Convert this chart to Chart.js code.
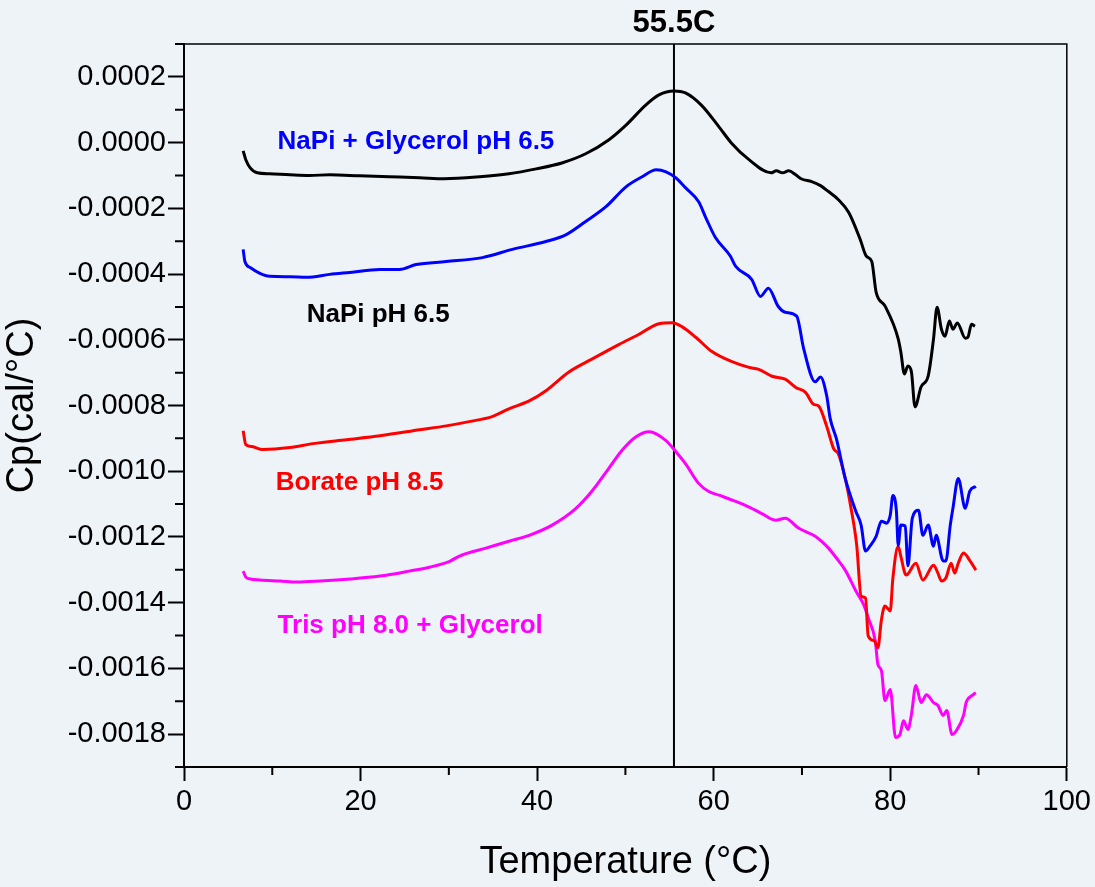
<!DOCTYPE html>
<html>
<head>
<meta charset="utf-8">
<title>Cp vs Temperature</title>
<script src="https://cdn.jsdelivr.net/npm/chart.js@4.4.1/dist/chart.umd.min.js"></script>
<style>
  html, body { margin: 0; padding: 0; background: #eef3f8; }
  #wrap { width: 1095px; height: 887px; position: relative; }
</style>
</head>
<body>
<div id="wrap"><canvas id="dsc"></canvas></div>
<script>
// DSC scans, Cp (cal/°C) vs temperature (°C)

const napiTemp = [6.7, 7.0, 7.5, 8.3, 9.7, 12.0, 14.2, 16.5, 19.9, 23.3, 26.7, 29.5, 33.5, 36.8, 39.9,
  42.8, 45.5, 48.1, 50.1, 52.3, 53.8, 55.5, 56.8, 58.6, 60.6, 62.0, 64.0, 66.5, 67.1, 67.8,
  68.5, 69.3, 69.9, 71.1, 72.1, 73.0, 74.1, 75.3, 76.6, 77.3, 77.9, 78.4, 79.4, 80.9, 81.2,
  81.6, 82.0, 82.4, 82.8, 83.5, 84.3, 84.9, 85.3, 85.8, 86.2, 86.7, 87.1, 87.6, 88.5, 88.8,
  89.2, 89.6];
const napiCp = [-0.000025, -0.000052, -0.000077, -0.000092, -0.000095, -0.000098, -0.000100, -0.000098, -0.000101, -0.000104,
  -0.000107, -0.000110, -0.000104, -0.000095, -0.000080, -0.000062, -0.000034, 0.000008, 0.000054, 0.000114,
  0.000145, 0.000157, 0.000151, 0.000114, 0.000048, -0.000001, -0.000052, -0.000092, -0.000086, -0.000092,
  -0.000086, -0.000098, -0.000110, -0.000119, -0.000131, -0.000149, -0.000173, -0.000213, -0.000295, -0.000346,
  -0.000361, -0.000455, -0.000497, -0.000597, -0.000637, -0.000704, -0.000680, -0.000698, -0.000804, -0.000743,
  -0.000710, -0.000598, -0.000501, -0.000568, -0.000589, -0.000543, -0.000568, -0.000549, -0.000595, -0.000592,
  -0.000553, -0.000559];

const glyTemp = [6.7, 6.9, 7.5, 8.6, 9.7, 12.0, 13.9, 16.5, 18.8, 22.2, 24.4, 26.3, 29.7, 33.8, 37.2,
  41.0, 43.3, 45.5, 47.8, 50.1, 51.9, 53.5, 54.6, 55.7, 56.8, 58.3, 59.1, 60.2, 61.9, 62.5,
  64.3, 65.3, 66.2, 67.3, 68.1, 69.4, 70.2, 71.5, 72.1, 72.8, 73.2, 73.9, 74.9, 76.1, 76.7,
  77.2, 77.7, 78.4, 79.0, 79.6, 80.0, 80.3, 80.7, 80.9, 81.2, 81.7, 82.0, 82.5, 83.2, 83.7,
  84.3, 84.9, 85.2, 86.0, 86.3, 86.8, 87.1, 87.7, 88.5, 89.0, 89.7];
const glyCp = [-0.000325, -0.000362, -0.000380, -0.000398, -0.000407, -0.000408, -0.000410, -0.000401, -0.000395, -0.000386,
  -0.000386, -0.000371, -0.000362, -0.000350, -0.000325, -0.000301, -0.000280, -0.000240, -0.000195, -0.000134,
  -0.000104, -0.000083, -0.000089, -0.000107, -0.000137, -0.000180, -0.000228, -0.000289, -0.000346, -0.000377,
  -0.000416, -0.000468, -0.000443, -0.000498, -0.000516, -0.000528, -0.000628, -0.000728, -0.000713, -0.000770,
  -0.000840, -0.000901, -0.001022, -0.001122, -0.001164, -0.001243, -0.001228, -0.001198, -0.001152, -0.001158,
  -0.001134, -0.001074, -0.001122, -0.001225, -0.001164, -0.001167, -0.001288, -0.001143, -0.001119, -0.001195,
  -0.001164, -0.001228, -0.001195, -0.001273, -0.001273, -0.001164, -0.001113, -0.001022, -0.001113, -0.001061,
  -0.001046];

const borateTemp = [6.7, 7.0, 7.7, 8.9, 12.0, 14.6, 18.4, 22.2, 26.7, 29.7, 32.3, 34.9, 36.8, 39.1, 41.0,
  43.6, 46.2, 49.3, 51.5, 53.8, 55.3, 56.4, 58.0, 59.8, 62.0, 64.0, 65.1, 66.6, 68.1, 69.3,
  70.4, 71.3, 71.9, 72.8, 73.6, 74.1, 74.9, 75.5, 76.2, 76.7, 77.2, 77.5, 78.2, 78.6, 79.0,
  79.4, 80.0, 80.3, 80.9, 81.2, 81.8, 82.9, 83.7, 84.9, 85.4, 85.8, 86.3, 86.9, 87.3, 87.7,
  88.3, 89.0, 89.7];
const borateCp = [-0.000877, -0.000919, -0.000925, -0.000934, -0.000928, -0.000916, -0.000904, -0.000892, -0.000874, -0.000862,
  -0.000849, -0.000834, -0.000810, -0.000786, -0.000755, -0.000698, -0.000659, -0.000614, -0.000584, -0.000551,
  -0.000548, -0.000560, -0.000593, -0.000636, -0.000666, -0.000684, -0.000690, -0.000711, -0.000720, -0.000745,
  -0.000760, -0.000796, -0.000802, -0.000863, -0.000932, -0.000946, -0.001022, -0.001104, -0.001225, -0.001380,
  -0.001386, -0.001501, -0.001516, -0.001537, -0.001452, -0.001410, -0.001425, -0.001325, -0.001228, -0.001259,
  -0.001316, -0.001280, -0.001331, -0.001286, -0.001310, -0.001334, -0.001325, -0.001280, -0.001310, -0.001280,
  -0.001249, -0.001271, -0.001301];

const trisTemp = [6.7, 7.0, 7.5, 8.6, 10.9, 12.8, 15.4, 18.8, 22.2, 25.5, 27.8, 30.1, 31.2, 34.2, 36.8,
  39.1, 41.7, 44.4, 46.2, 48.1, 49.6, 51.2, 52.7, 54.6, 55.7, 56.8, 58.3, 59.4, 60.6, 62.5,
  63.6, 65.4, 67.0, 68.1, 69.6, 71.5, 73.0, 73.9, 74.9, 76.1, 77.0, 77.5, 78.3, 78.6, 79.0,
  79.4, 80.0, 80.6, 81.1, 81.5, 82.0, 82.4, 82.9, 83.5, 84.1, 84.9, 85.4, 86.0, 86.4, 87.0,
  87.5, 88.3, 88.6, 89.4, 89.7];
const trisCp = [-0.001304, -0.001322, -0.001328, -0.001331, -0.001334, -0.001337, -0.001334, -0.001328, -0.001319, -0.001304,
  -0.001292, -0.001274, -0.001258, -0.001234, -0.001213, -0.001195, -0.001164, -0.001113, -0.001061, -0.000992,
  -0.000937, -0.000895, -0.000880, -0.000907, -0.000940, -0.000977, -0.001037, -0.001061, -0.001073, -0.001092,
  -0.001104, -0.001128, -0.001149, -0.001143, -0.001173, -0.001198, -0.001234, -0.001264, -0.001301, -0.001364,
  -0.001407, -0.001446, -0.001516, -0.001588, -0.001607, -0.001698, -0.001664, -0.001810, -0.001801, -0.001759,
  -0.001786, -0.001740, -0.001652, -0.001704, -0.001680, -0.001704, -0.001713, -0.001743, -0.001728, -0.001801,
  -0.001789, -0.001743, -0.001704, -0.001680, -0.001674];

const markerTemp = 55.5;
const markerLabel = '55.5C';

const xTicks = [0, 20, 40, 60, 80, 100];
const xMinorTicks = [10, 30, 50, 70, 90];
const yTicks = [0.0002, 0.0000, -0.0002, -0.0004, -0.0006, -0.0008, -0.0010, -0.0012, -0.0014, -0.0016, -0.0018];
const yMinorTicks = [0.0003, 0.0001, -0.0001, -0.0003, -0.0005, -0.0007, -0.0009, -0.0011, -0.0013, -0.0015, -0.0017, -0.0019];

// text placed next to each curve (data coords of the baseline start)
const curveLabels = [
  { text: 'NaPi + Glycerol pH 6.5', x: 10.6, y: -0.000019, color: '#0000ff' },
  { text: 'NaPi pH 6.5',            x: 13.9, y: -0.000546, color: '#000000' },
  { text: 'Borate pH 8.5',          x: 10.4, y: -0.001058, color: '#ff0000' },
  { text: 'Tris pH 8.0 + Glycerol', x: 10.6, y: -0.001492, color: '#ff00ff' },
];

const FONT = '"Liberation Sans", Arial, Helvetica, sans-serif';
const pts = (xs, ys) => xs.map((t, i) => ({ x: t, y: ys[i] }));

const line = (label, data, color) => ({
  label, data, borderColor: color, borderWidth: 3,
  pointRadius: 0, showLine: true, fill: false, cubicInterpolationMode: 'monotone'
});

const decor = {
  id: 'decor',
  afterDraw(chart) {
    const { ctx, chartArea: a, scales: { x, y } } = chart;
    ctx.save();
    ctx.strokeStyle = '#000';
    ctx.lineWidth = 2;
    ctx.beginPath();
    xMinorTicks.forEach(v => { const px = x.getPixelForValue(v); ctx.moveTo(px, a.bottom); ctx.lineTo(px, a.bottom + 8); });
    yMinorTicks.forEach(v => { const py = y.getPixelForValue(v); ctx.moveTo(a.left, py); ctx.lineTo(a.left - 9, py); });
    ctx.stroke();

    ctx.lineWidth = 1.5;
    ctx.beginPath();
    ctx.moveTo(a.left, a.top); ctx.lineTo(a.right, a.top); ctx.lineTo(a.right, a.bottom);
    ctx.stroke();

    ctx.font = 'bold 26px ' + FONT;
    ctx.textAlign = 'left';
    ctx.textBaseline = 'alphabetic';
    curveLabels.forEach(l => {
      ctx.fillStyle = l.color;
      ctx.fillText(l.text, x.getPixelForValue(l.x), y.getPixelForValue(l.y));
    });

    ctx.font = 'bold 31px ' + FONT;
    ctx.fillStyle = '#000';
    ctx.textAlign = 'center';
    ctx.fillText(markerLabel, x.getPixelForValue(markerTemp), y.getPixelForValue(0.000335));
    ctx.restore();
  }
};

new Chart(document.getElementById('dsc').getContext('2d'), {
  type: 'scatter',
  data: {
    datasets: [
      line('NaPi pH 6.5', pts(napiTemp, napiCp), '#000000'),
      line('NaPi + Glycerol pH 6.5', pts(glyTemp, glyCp), '#0000ff'),
      line('Borate pH 8.5', pts(borateTemp, borateCp), '#ff0000'),
      line('Tris pH 8.0 + Glycerol', pts(trisTemp, trisCp), '#ff00ff'),
      { label: 'marker', data: [{ x: markerTemp, y: 0.0003 }, { x: markerTemp, y: -0.0019 }],
        borderColor: '#000', borderWidth: 2, pointRadius: 0, showLine: true }
    ]
  },
  options: {
    responsive: true, maintainAspectRatio: false, animation: false,
    layout: { padding: { top: 44, right: 26, left: 0, bottom: 0 } },
    plugins: { legend: { display: false }, tooltip: { enabled: false } },
    scales: {
      x: {
        type: 'linear', position: 'bottom', min: 0, max: 100,
        afterFit: s => { s.height = 120; },
        afterBuildTicks: s => { s.ticks = xTicks.map(v => ({ value: v })); },
        ticks: { color: '#000', font: { family: FONT, size: 29 }, padding: 4, autoSkip: false, maxRotation: 0 },
        grid: { drawOnChartArea: false, tickLength: 14, tickWidth: 2, tickColor: '#000' },
        border: { color: '#000', width: 2 },
        title: { display: true, text: 'Temperature (°C)', color: '#000', font: { family: FONT, size: 38 }, padding: { top: 0, bottom: 2 } }
      },
      y: {
        type: 'linear', min: -0.0019, max: 0.0003,
        afterFit: s => { s.width = 184; },
        afterBuildTicks: s => { s.ticks = yTicks.map(v => ({ value: v })); },
        ticks: { color: '#000', font: { family: FONT, size: 29 }, padding: 2, autoSkip: false,
          callback: v => v.toFixed(4) },
        grid: { drawOnChartArea: false, tickLength: 16, tickWidth: 2, tickColor: '#000' },
        border: { color: '#000', width: 2 },
        title: { display: true, text: 'Cp(cal/°C)', color: '#000', font: { family: FONT, size: 38 }, padding: { top: 0, bottom: 8 } }
      }
    }
  },
  plugins: [decor]
});
</script>
</body>
</html>
